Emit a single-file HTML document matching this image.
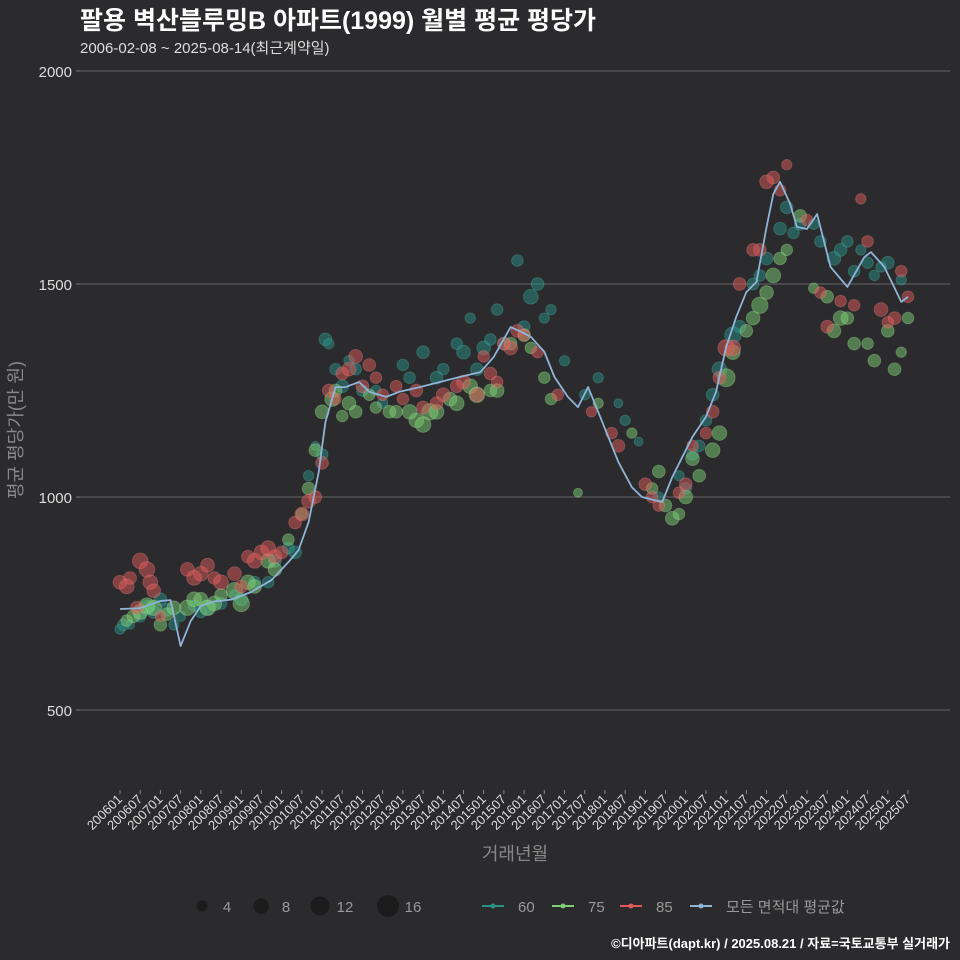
<!DOCTYPE html>
<html><head><meta charset="utf-8">
<style>
html,body{margin:0;padding:0;background:#2b2a2c;}
svg{display:block;font-family:"Liberation Sans","Noto Sans CJK KR",sans-serif;}
</style></head><body>
<svg id="chart" width="960" height="960" viewBox="0 0 960 960" xmlns="http://www.w3.org/2000/svg">
<rect width="960" height="960" fill="#2b2a2c"/>
<text x="80" y="29" font-size="25" font-weight="bold" fill="#ffffff">팔용 벽산블루밍B 아파트(1999) 월별 평균 평당가</text>
<text x="80" y="53" font-size="15" fill="#dddddd">2006-02-08 ~ 2025-08-14(최근계약일)</text>
<g id="grid"></g>
<g id="points"></g>
<g id="line"></g>
<g id="xaxis"></g>
<text transform="translate(22,430) rotate(-90)" text-anchor="middle" font-size="18" fill="#888">평균 평당가(만 원)</text>
<text x="515" y="860" text-anchor="middle" font-size="18" fill="#888">거래년월</text>
<g id="legend"></g>
<text x="950" y="948" text-anchor="end" font-size="13" font-weight="bold" fill="#ffffff">©디아파트(dapt.kr) / 2025.08.21 / 자료=국토교통부 실거래가</text>
</svg>
<script>
const yTicks=[500,1000,1500,2000];
const lineMonths=[0,6,12,15,18,21,24,28,33,39,45,50,53,56,59,61,64,67,71,74,79,83,89,95,101,107,111,116,119,122,126,129,133,136,139,142,145,148,152,155,161,164,167,170,174,177,180,183,186,189,192,194,196,199,201,204,207,211,216,221,223,227,232,234];
const lineVals=[737,739,756,758,650,709,744,755,759,777,805,847,875,941,1058,1176,1258,1258,1270,1247,1235,1247,1258,1270,1282,1293,1329,1399,1388,1376,1341,1282,1235,1211,1258,1200,1141,1082,1023,1000,988,1047,1094,1141,1188,1247,1352,1423,1481,1505,1634,1711,1740,1688,1634,1629,1664,1540,1493,1563,1575,1540,1458,1470];
const m60=[0,3,6,10,14,18,22,26,30,34,40,46,50,56,58,61,64,68,72,78,84,90,96,100,104,108,112,118,124,128,132,138,142,148,154,160,166,170,174,178,184,190,196,200,206,212,216,220,224,228,232,1,8,12,16,24,36,44,52,60,62,66,70,76,86,94,102,106,110,114,120,122,126,150,168,172,176,182,188,192,198,202,208,214,218,222,226];
const v60=[690,700,720,730,735,720,745,740,750,770,800,850,880,1050,1120,1370,1300,1320,1250,1220,1310,1340,1300,1360,1420,1350,1440,1555,1500,1440,1320,1240,1280,1220,1130,1000,1050,1100,1180,1300,1400,1520,1630,1620,1640,1560,1600,1580,1520,1550,1510,700,740,760,700,730,760,800,870,1100,1360,1260,1300,1250,1280,1280,1340,1300,1370,1360,1400,1470,1420,1180,1020,1120,1240,1380,1500,1560,1680,1640,1600,1580,1530,1550,1540];
const c60=[4,3,5,6,6,4,5,8,5,4,5,6,5,4,3,6,5,4,5,4,5,6,5,5,4,7,5,5,6,4,4,4,4,3,3,4,4,5,5,8,6,5,6,5,4,7,5,4,4,6,4,5,8,6,4,5,6,5,6,5,4,6,5,4,5,6,7,6,5,6,5,8,4,4,5,5,6,10,5,6,6,5,5,6,5,5,4];
const m75=[2,6,10,14,20,24,28,34,38,44,50,56,60,63,66,70,76,82,88,92,98,104,110,116,122,128,136,142,152,160,164,168,170,176,180,186,190,194,198,206,210,214,218,224,230,234,4,8,12,16,22,26,30,36,40,46,54,58,64,68,74,80,86,90,94,100,106,112,120,126,158,162,166,172,178,182,188,192,196,202,212,216,222,228,232];
const v75=[710,730,740,725,740,760,750,780,800,850,900,1020,1200,1230,1190,1200,1210,1200,1180,1200,1230,1260,1250,1360,1350,1230,1010,1220,1150,1060,950,1000,1090,1110,1280,1390,1450,1520,1580,1490,1470,1420,1360,1320,1300,1420,720,745,700,740,760,740,770,750,790,830,960,1110,1250,1220,1240,1200,1200,1170,1200,1220,1240,1250,1380,1280,1020,980,960,1050,1150,1340,1420,1480,1560,1660,1390,1420,1360,1390,1340];
const c75=[5,8,9,6,9,7,8,10,8,8,5,6,7,8,5,6,5,6,8,10,7,8,6,6,5,5,3,4,4,6,7,7,7,8,12,6,10,8,5,4,6,8,6,6,6,5,6,9,6,7,8,9,6,10,7,7,5,6,6,7,5,6,8,9,8,8,9,7,6,5,5,6,5,6,8,8,7,7,6,6,7,6,5,6,4];
const m85=[0,3,6,9,12,20,24,28,34,38,42,46,52,56,60,62,66,70,74,78,84,90,96,102,108,114,118,124,130,140,148,156,160,166,170,176,180,184,190,194,198,204,210,214,220,226,230,234,2,5,8,10,22,26,30,36,40,44,48,54,58,64,68,72,76,82,88,94,100,106,110,112,116,120,146,158,168,174,178,182,188,192,196,208,218,222,228,232];
const v85=[800,810,850,800,720,830,820,810,820,860,870,860,940,990,1080,1250,1290,1330,1310,1240,1230,1210,1240,1270,1330,1360,1390,1340,1240,1200,1120,1030,980,1010,1120,1200,1350,1500,1580,1750,1780,1650,1400,1460,1700,1440,1420,1470,790,740,830,780,810,840,800,790,850,880,870,960,1000,1230,1300,1260,1280,1260,1250,1220,1260,1240,1290,1270,1350,1380,1150,1000,1030,1150,1280,1350,1580,1740,1720,1480,1450,1600,1410,1530];
const c85=[7,6,9,8,4,7,8,6,7,6,8,7,6,7,6,6,6,7,6,5,5,6,7,7,5,6,6,5,5,4,6,6,5,5,5,6,10,6,6,6,4,5,6,5,4,7,6,5,8,6,9,7,8,7,8,6,8,8,6,7,6,5,7,6,5,5,6,6,6,7,6,5,7,5,5,5,6,5,6,9,6,7,5,5,5,5,5,5];
const sizeLegend=[4,8,12,16];
const seriesNames=["60","75","85","모든 면적대 평균값"];
const NS="http://www.w3.org/2000/svg";
const X=m=>120+m*(788/234);
const Y=v=>71+(2000-v)*(213/500);
const R=c=>2.6*Math.sqrt(c);
function mk(tag,attrs,parent){const e=document.createElementNS(NS,tag);for(const k in attrs)e.setAttribute(k,attrs[k]);parent.appendChild(e);return e;}
const grid=document.getElementById('grid');
yTicks.forEach(t=>{
  const l=mk('line',{x1:80,x2:950,y1:Y(t),y2:Y(t),stroke:'#5a5a5a','stroke-width':1.2},grid);
  
  
  const tk=mk('line',{x1:76,x2:80,y1:Y(t),y2:Y(t),stroke:'#777'},grid);
  
  
  const tx=mk('text',{x:72,y:Y(t)+6,'text-anchor':'end','font-size':15,fill:'#dddddd'},grid);
  tx.textContent=t;
  
  
});
const pts=document.getElementById('points');
function drawSeries(ms,vs,cs,col,stroke,name){
  ms.forEach((m,i)=>{
    const c=mk('circle',{cx:X(m),cy:Y(vs[i]),r:R(cs[i]),fill:col,'fill-opacity':0.5,stroke:stroke,'stroke-opacity':0.3,'stroke-width':1},pts);
    
    
  });
}
drawSeries(m60,v60,c60,'#2a9088','#4fb8b0','point-60');
drawSeries(m75,v75,c75,'#7ccf74','#a8e8a0','point-75');
drawSeries(m85,v85,c85,'#e05a5a','#f08a8a','point-85');
const lg=document.getElementById('line');
const p=mk('polyline',{points:lineMonths.map((m,i)=>X(m)+','+Y(lineVals[i])).join(' '),fill:'none',stroke:'#8fb4d8','stroke-width':1.8,'stroke-linejoin':'round'},lg);


const xa=document.getElementById('xaxis');
for(let i=0;i<=39;i++){
  const m=i*6,yr=2006+Math.floor(m/12),mo=(m%12)+1;
  const lab=yr+String(mo).padStart(2,'0');
  const tk=mk('line',{x1:X(m),x2:X(m),y1:790,y2:794,stroke:'#888'},xa);
  
  
  const t=mk('text',{x:X(m)+3,y:800,'text-anchor':'end','font-size':13,fill:'#dddddd',transform:`rotate(-45 ${X(m)+3} 800)`},xa);
  t.textContent=lab;
  
  
}
const leg=document.getElementById('legend');
const sx=[202,261,320,388];
sizeLegend.forEach((s,i)=>{
  const c=mk('circle',{cx:sx[i],cy:906,r:R(s)*1.05,fill:'#1c1c1d'},leg);
  
  
  const t=mk('text',{x:sx[i]+25,y:912,'text-anchor':'middle','font-size':15,fill:'#999'},leg);
  t.textContent=s;
  
  
});
const lcols=['#2a9088','#7ccf74','#e05a5a','#8fb4d8'];
const lx=[482,552,620,690];
seriesNames.forEach((n,i)=>{
  const g=mk('g',{},leg);
  
  
  mk('line',{x1:lx[i],x2:lx[i]+22,y1:906,y2:906,stroke:lcols[i],'stroke-width':2},g);
  mk('circle',{cx:lx[i]+11,cy:906,r:2.5,fill:lcols[i]},g);
  const t=mk('text',{x:lx[i]+36,y:912,'font-size':15,fill:'#999'},g);
  t.textContent=n;
});
</script>
</body></html>
